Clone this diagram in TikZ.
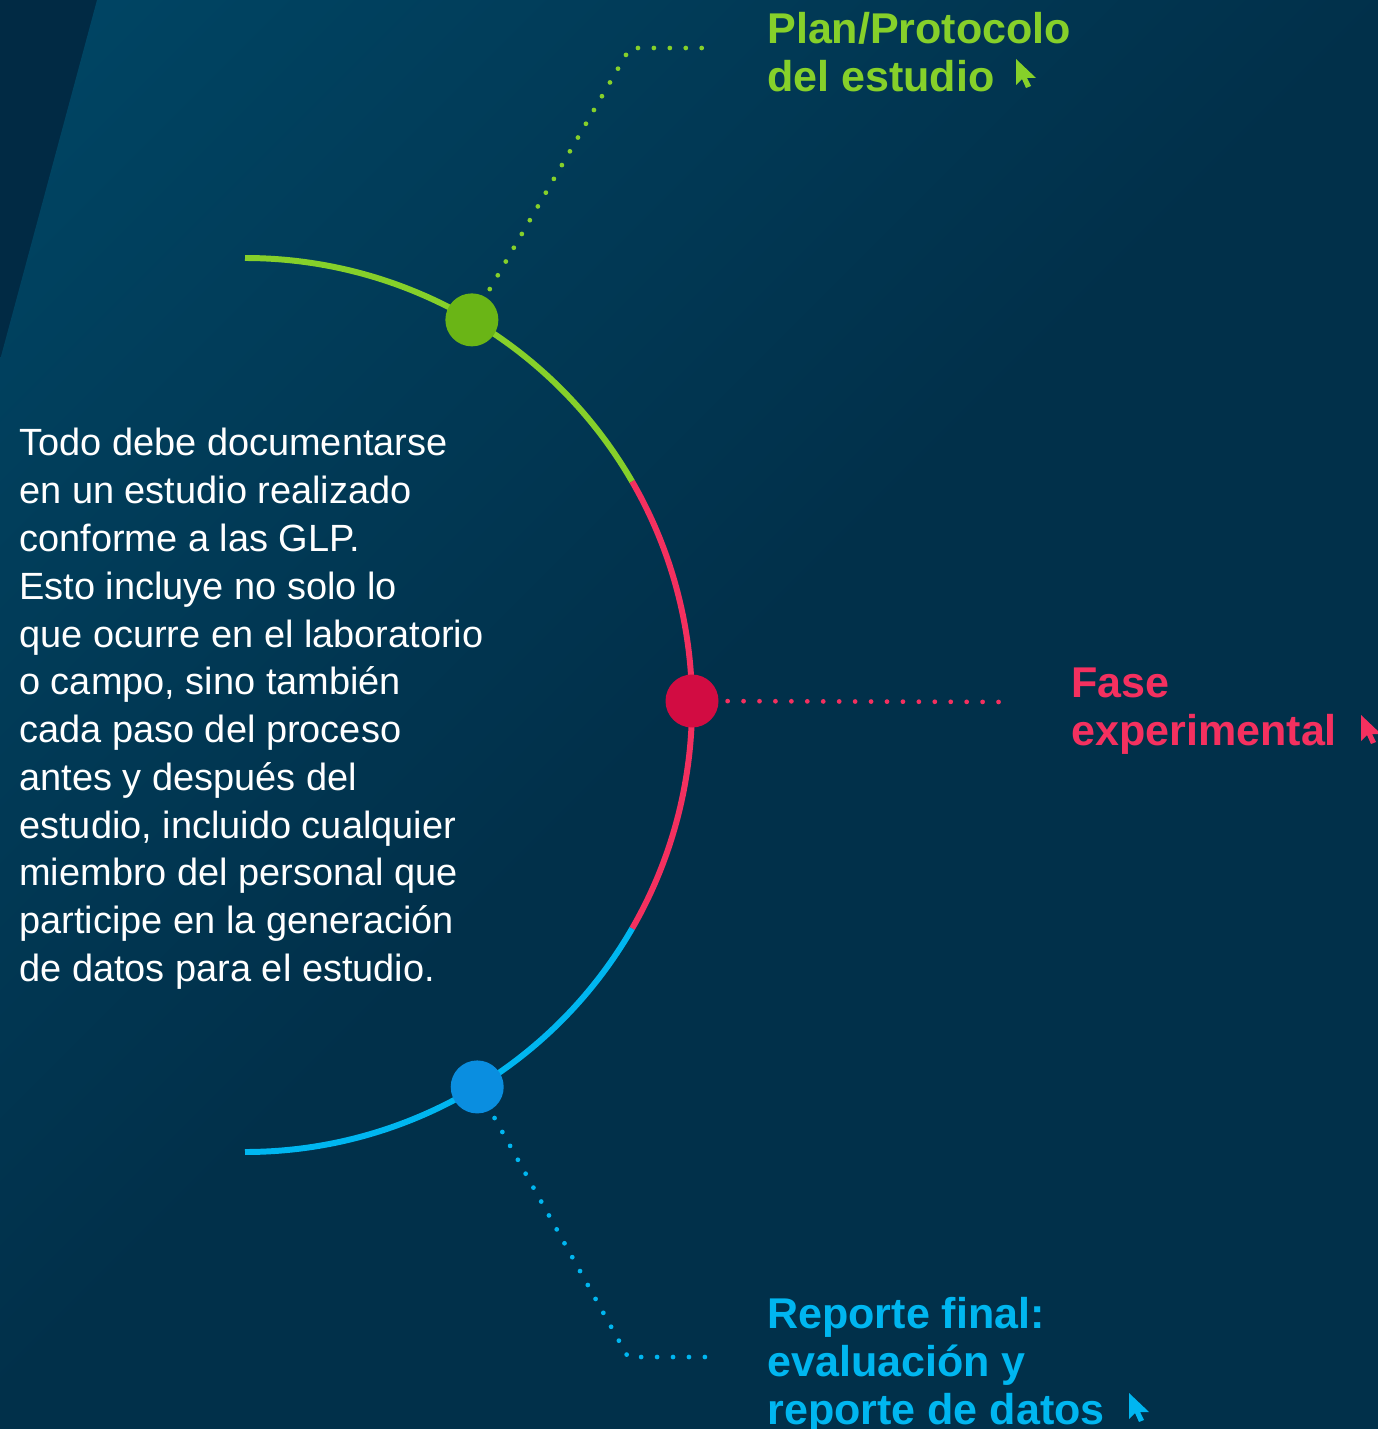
\documentclass[tikz,border=0pt]{standalone}
\usepackage{fontspec}
\setmainfont{Liberation Sans}

\definecolor{navy}{HTML}{01304A}
\definecolor{navydark}{HTML}{012A44}
\definecolor{navylight}{HTML}{004F70}
\definecolor{glpgreen}{HTML}{86D02A}
\definecolor{glpgreendot}{HTML}{6AB516}
\definecolor{glpred}{HTML}{F4305F}
\definecolor{glpreddot}{HTML}{D20C42}
\definecolor{glpblue}{HTML}{00B6F0}
\definecolor{glpbluedot}{HTML}{0A8EE0}

\pgfdeclareverticalshading{glpfade}{100bp}{color(0bp)=(navy); color(50bp)=(navy); color(100bp)=(navylight)}

\tikzset{
  cursor/.pic={\fill (0,0) -- (0,-26) -- (6,-20) -- (10,-29) -- (15,-27) -- (11,-19) -- (20,-19) -- cycle;}
}

\begin{document}
\begin{tikzpicture}[x=0.02cm, y=0.02cm,
    arcline/.style={line width=3.4pt},
    stage/.style={circle, fill, inner sep=0pt, minimum size=1.06cm},
    leader/.style={line width=2.7pt, line cap=round, dash pattern=on 0pt off 9.07pt, shorten <=5pt},
    phase/.style={anchor=north west, inner sep=0pt, align=left, font=\fontsize{24.5}{27.2}\selectfont\bfseries}]

    % BACKGROUND
    \useasboundingbox (0,0) rectangle (1378,-1429);
    \fill[navydark] (0,0) rectangle (1378,-1429);
    \shade[shading=glpfade, shading angle=45]
        (97,0) -- (1378,0) -- (1378,-1429) -- (0,-1429) -- (0,-360) -- cycle;

    % ARC
    \coordinate (C) at (245,-705);
    \draw[arcline, glpgreen] ([shift={(90:447)}]C) arc (90:30:447);
    \draw[arcline, glpred] ([shift={(30:447)}]C) arc (30:-30:447);
    \draw[arcline, glpblue] ([shift={(-30:447)}]C) arc (-30:-90:447);

    % PLAN
    \node[stage, glpgreendot] (gdot) at ([shift={(59.5:447)}]C) {};
    \coordinate (gcorner) at (630,-48);
    \coordinate (gend) at (715,-48);
    \draw[leader, glpgreen] (gdot) -- (gcorner) -- (gend);
    \node[phase, glpgreen] (plan) at (767,-12) {Plan/Protocolo\\del estudio};
    \pic[glpgreen] at (1016,-59) {cursor};

    % FASE EXPERIMENTAL
    \node[stage, glpreddot] (rdot) at (692,-701) {};
    \coordinate (rend) at (1013,-702);
    \draw[leader, glpred] (rdot) -- (rend);
    \node[phase, glpred] (fase) at (1071,-668) {Fase\\experimental};
    \pic[glpred] at (1361,-715) {cursor};

    % REPORTE FINAL
    \node[stage, glpbluedot] (bdot) at ([shift={(-58.7:447)}]C) {};
    \coordinate (bcorner) at (628,-1357);
    \coordinate (bend2) at (706,-1357);
    \draw[leader, glpblue] (bdot) -- (bcorner) -- (bend2);
    \node[phase, glpblue] (reporte) at (767,-1297) {Reporte final:\\evaluación y\\reporte de datos};
    \pic[glpblue] at (1129,-1393) {cursor};

    % TEXTO
    \node[anchor=north west, inner sep=0pt, align=left, white, font=\fontsize{21.6}{27.2}\selectfont] (texto) at (19,-428)
        {Todo debe documentarse\\en un estudio realizado\\conforme a las GLP.\\Esto incluye no solo lo\\que ocurre en el laboratorio\\o campo, sino también\\cada paso del proceso\\antes y después del\\estudio, incluido cualquier\\miembro del personal que\\participe en la generación\\de datos para el estudio.};
\end{tikzpicture}
\end{document}
